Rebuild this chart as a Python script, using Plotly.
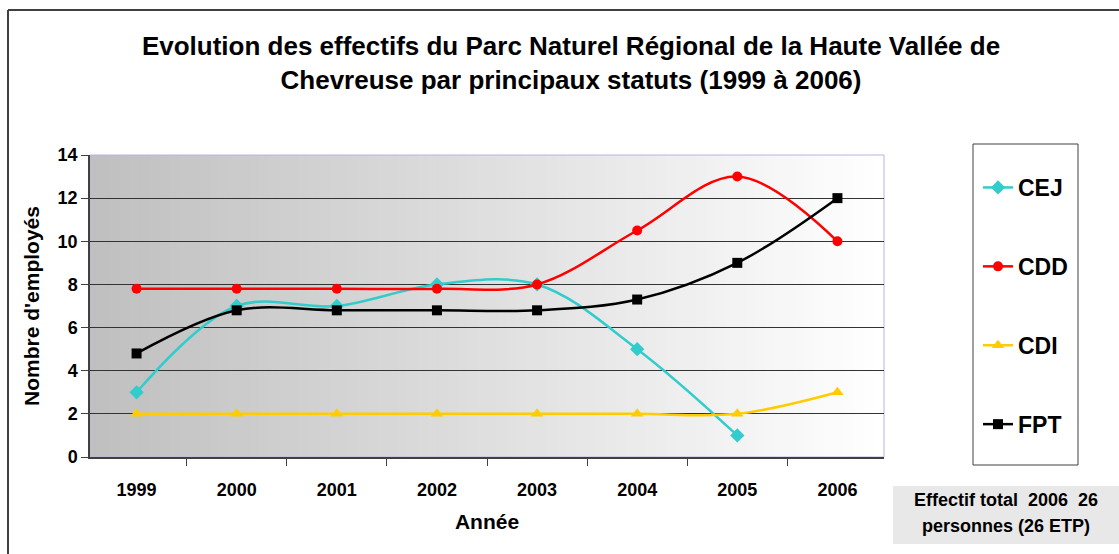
import plotly.graph_objects as go

years = ["1999", "2000", "2001", "2002", "2003", "2004", "2005", "2006"]
cej = [3, 7, 7, 8, 8, 5, 1, None]
cdd = [7.8, 7.8, 7.8, 7.8, 8, 10.5, 13, 10]
cdi = [2, 2, 2, 2, 2, 2, 2, 3]
fpt = [4.8, 6.8, 6.8, 6.8, 6.8, 7.3, 9, 12]

W, H = 1119, 554
L, R, T, B = 90, 884, 155, 457


def px(x, y):
    # pixel position -> paper coords (paper = plot area)
    return (x - L) / (R - L), (B - y) / (B - T)


FONT = "Liberation Sans, Arial, sans-serif"

fig = go.Figure()

series = [
    ("CEJ", cej, "#33CCCC", "diamond", 11),
    ("CDD", cdd, "#FF0000", "circle", 10),
    ("CDI", cdi, "#FFCC00", "triangle-up", 11),
    ("FPT", fpt, "#000000", "square", 10),
]
for name, vals, col, sym, size in series:
    fig.add_trace(go.Scatter(
        x=years, y=vals, name=name, legendgroup=name,
        mode="lines+markers",
        line=dict(color=col, width=2.5, shape="spline", smoothing=1),
        marker=dict(symbol=sym, size=size, color=col),
    ))

shapes = []
# background gradient (gray -> white)
n = 80
for i in range(n):
    c = int(192 + (255 - 192) * i / (n - 1))
    shapes.append(dict(type="rect", xref="x domain", yref="y domain",
                       x0=i / n, x1=(i + 1) / n + 0.002, y0=0, y1=1,
                       fillcolor=f"rgb({c},{c},{c})", line_width=0, layer="below"))
# plot area border (top/right)
shapes.append(dict(type="rect", xref="x domain", yref="y domain", x0=0, x1=1, y0=0, y1=1,
                   line=dict(color="#b4b4e0", width=1), layer="below"))

# legend box
x0, y0 = px(973, 465)
x1, y1 = px(1078, 144)
shapes.append(dict(type="rect", xref="paper", yref="paper", x0=x0, x1=x1, y0=y0, y1=y1,
                   line=dict(color="#404040", width=1), fillcolor="white", layer="below"))

# note box
x0, y0 = px(893, 544)
x1, y1 = px(1125, 486)
shapes.append(dict(type="rect", xref="paper", yref="paper", x0=x0, x1=x1, y0=y0, y1=y1,
                   line_width=0, fillcolor="#e8e8e8", layer="below"))

# outer chart border (top and left)
ox, oy = px(8, 10)
ex, ey = px(1125, 560)
shapes.append(dict(type="line", xref="paper", yref="paper", x0=ox, x1=ex, y0=oy, y1=oy,
                   line=dict(color="#404040", width=2)))
shapes.append(dict(type="line", xref="paper", yref="paper", x0=ox, x1=ox, y0=oy, y1=ey,
                   line=dict(color="#404040", width=2)))

nx, ny1 = px(1006, 500)
_, ny2 = px(1006, 526)
note_font = dict(size=18, color="#000", family=FONT, weight="bold")
annotations = [
    dict(xref="paper", yref="paper", x=nx, y=ny1, xanchor="center", yanchor="middle",
         showarrow=False, text="Effectif total&nbsp; 2006&nbsp; 26", font=note_font),
    dict(xref="paper", yref="paper", x=nx, y=ny2, xanchor="center", yanchor="middle",
         showarrow=False, text="personnes (26 ETP)", font=note_font),
]

lx, ly = px(978, 166)

fig.update_layout(
    width=W, height=H,
    margin=dict(l=L, r=W - R, t=T, b=H - B),
    paper_bgcolor="white",
    plot_bgcolor="white",
    font=dict(family=FONT, color="#000"),
    title=dict(
        text="Evolution des effectifs du Parc Naturel Régional de la Haute Vallée de<br>"
             "Chevreuse par principaux statuts (1999 à 2006)",
        x=571 / W, xanchor="center", y=1 - 55 / H, yanchor="middle",
        font=dict(size=26, family=FONT, weight="bold", color="#000"),
    ),
    legend=dict(x=lx, y=ly, xanchor="left", yanchor="top",
                bgcolor="rgba(0,0,0,0)", borderwidth=0,
                tracegroupgap=46,
                font=dict(size=23, family=FONT, weight="bold", color="#000")),
    shapes=shapes,
    annotations=annotations,
    showlegend=True,
)

fig.update_xaxes(
    type="category", tickson="boundaries", ticks="outside", ticklen=7,
    tickcolor="#404040", showline=True, linecolor="#404040", linewidth=1.5,
    showgrid=False, ticklabelstandoff=16,
    tickfont=dict(size=18, family=FONT, weight="bold"),
    title=dict(text="Année", standoff=15, font=dict(size=21, family=FONT, weight="bold")),
)
fig.update_yaxes(
    range=[0, 14], dtick=2, ticks="outside", ticklen=7, tickcolor="#404040",
    showline=True, linecolor="#404040", linewidth=1.5,
    showgrid=True, gridcolor="#333333", gridwidth=1, zeroline=False,
    tickfont=dict(size=18, family=FONT, weight="bold"),
    title=dict(text="Nombre d'employés", standoff=12, font=dict(size=21, family=FONT, weight="bold")),
)

fig.write_html("out.html", config={"displayModeBar": False},
               post_script="document.body.style.margin='0';")
